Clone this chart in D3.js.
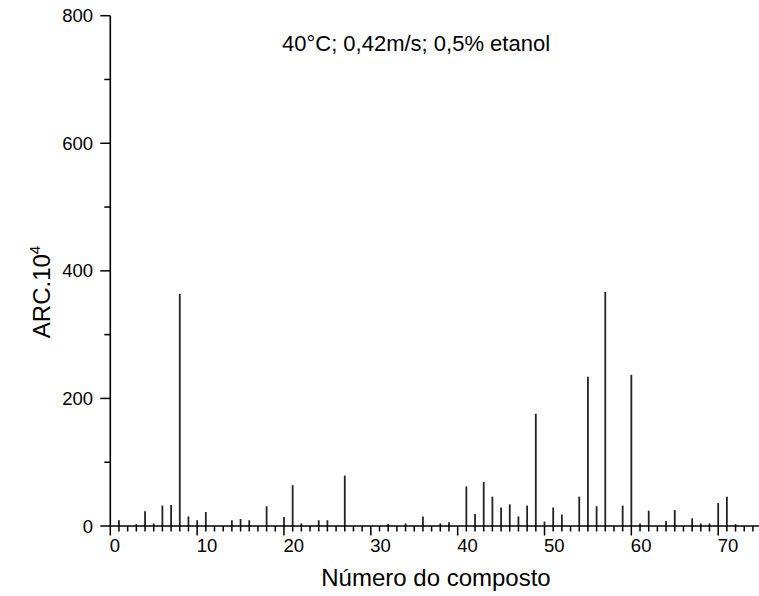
<!DOCTYPE html>
<html>
<head>
<meta charset="utf-8">
<script src="https://cdn.jsdelivr.net/npm/d3@7"></script>
<style>
  html, body { margin: 0; padding: 0; background: #fff; }
  svg { display: block; font-family: "Liberation Sans", Arial, sans-serif; }
</style>
</head>
<body>
<svg id="chart" width="759" height="596"></svg>
<script>
// Data: compound number and ARC.10^4 value
const compounds = [1, 3, 4, 5, 6, 7, 8, 9, 10, 11, 14, 15, 16, 18, 20, 21, 22, 24, 25, 27,
  32, 34, 36, 38, 39, 41, 42, 43, 44, 45, 46, 47, 48, 49, 50, 51, 52, 54, 55, 56, 57,
  59, 60, 61, 62, 64, 65, 67, 68, 69, 70, 71, 72];
const values = [9, 3, 23, 4, 32, 33, 364, 15, 9, 22, 9, 11, 9, 31, 14, 64, 4, 9, 9, 79,
  3, 4, 15, 4, 6, 62, 19, 69, 46, 29, 34, 15, 32, 176, 7, 29, 18, 46, 234, 31, 367,
  32, 237, 4, 24, 8, 25, 12, 4, 4, 36, 46, 3];
const xTickValues = [0, 10, 20, 30, 40, 50, 60, 70];
const yTickValues = [0, 200, 400, 600, 800];
const titleText = "40°C; 0,42m/s; 0,5% etanol";
const xLabel = "Número do composto";

const svg = d3.select("#chart");
const x = d3.scaleLinear().domain([0, 74.7]).range([110.3, 759]);
const y = d3.scaleLinear().domain([0, 800]).range([526, 15.7]);

const tickFont = 18.5;
const titleFont = 22;

// bars (impulses)
svg.append("g").selectAll("line").data(compounds).join("line")
  .attr("x1", (d) => x(d)).attr("x2", (d) => x(d))
  .attr("y1", y(0)).attr("y2", (d, i) => y(values[i]))
  .attr("stroke", "#222").attr("stroke-width", 1.8);

// X axis
const xMinor = d3.range(0, 75, 1);
const gx = svg.append("g");
gx.append("line").attr("x1", x(0)).attr("x2", 759).attr("y1", y(0)).attr("y2", y(0))
  .attr("stroke", "#000").attr("stroke-width", 1.6);
gx.selectAll("line.minor").data(xMinor.filter(v => v % 10 !== 0)).join("line")
  .attr("class", "minor")
  .attr("x1", d => x(d)).attr("x2", d => x(d))
  .attr("y1", y(0)).attr("y2", y(0) + 5.5)
  .attr("stroke", "#000").attr("stroke-width", 1.5);
gx.selectAll("line.major").data(xTickValues).join("line")
  .attr("class", "major")
  .attr("x1", d => x(d)).attr("x2", d => x(d))
  .attr("y1", y(0)).attr("y2", y(0) + 9.5)
  .attr("stroke", "#000").attr("stroke-width", 1.5);
gx.selectAll("text").data(xTickValues).join("text")
  .attr("x", d => x(d) - 0.5).attr("y", 552)
  .attr("text-anchor", "start")
  .attr("font-size", tickFont).attr("fill", "#000")
  .text(d => d);

// Y axis
const gy = svg.append("g");
gy.append("line").attr("x1", x(0)).attr("x2", x(0)).attr("y1", y(0) + 0.8).attr("y2", y(800))
  .attr("stroke", "#000").attr("stroke-width", 1.6);
gy.selectAll("line.minor").data([100, 300, 500, 700]).join("line")
  .attr("class", "minor")
  .attr("x1", x(0) - 6).attr("x2", x(0))
  .attr("y1", d => y(d)).attr("y2", d => y(d))
  .attr("stroke", "#000").attr("stroke-width", 1.5);
gy.selectAll("line.major").data(yTickValues).join("line")
  .attr("class", "major")
  .attr("x1", x(0) - 10).attr("x2", x(0))
  .attr("y1", d => y(d)).attr("y2", d => y(d))
  .attr("stroke", "#000").attr("stroke-width", 1.5);
gy.selectAll("text").data(yTickValues).join("text")
  .attr("x", 93).attr("y", d => y(d) + 6.5)
  .attr("text-anchor", "end")
  .attr("font-size", tickFont).attr("fill", "#000")
  .text(d => d);

// Title
svg.append("text").attr("x", 416).attr("y", 51)
  .attr("text-anchor", "middle").attr("font-size", titleFont).attr("fill", "#000")
  .text(titleText);

// X label
svg.append("text").attr("x", 436).attr("y", 586)
  .attr("text-anchor", "middle").attr("font-size", 24).attr("fill", "#000")
  .text(xLabel);

// Y label
const yl = svg.append("text")
  .attr("transform", "translate(50,292) rotate(-90)")
  .attr("text-anchor", "middle").attr("font-size", 24).attr("fill", "#000");
yl.append("tspan").text("ARC.10");
yl.append("tspan").attr("font-size", 15).attr("dy", -10).text("4");
</script>
</body>
</html>
